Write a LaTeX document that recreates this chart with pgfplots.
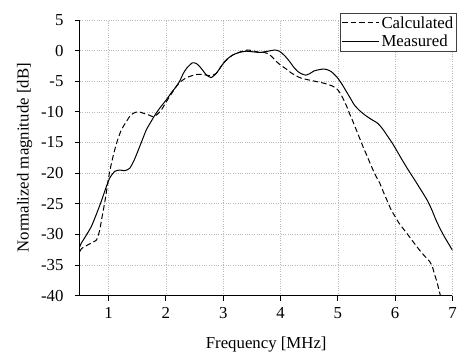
\documentclass[border=0pt]{standalone}
\usepackage{fontspec}
\setmainfont{Liberation Serif}
\usepackage{pgfplots}
\pgfplotsset{compat=1.18}
\newcommand{\fs}{\fontsize{16.8bp}{19bp}\selectfont}
\begin{document}
\begin{tikzpicture}
\begin{axis}[
  name=ax,
  scale only axis,
  width=373bp, height=276bp,
  xmin=0.5, xmax=7, ymin=-40, ymax=5,
  xtick={1,2,3,4,5,6,7},
  ytick={-40,-35,-30,-25,-20,-15,-10,-5,0,5},
  axis x line*=bottom, axis y line*=left,
  axis line style={-, line width=0.9bp},
  tick align=outside,
  major tick length=5bp,
  tick style={line width=0.8bp, black},
  grid=major,
  grid style={dotted, line width=0.6bp, gray!55},
  /pgf/number format/assume math mode=true,
  tick label style={font=\fs},
  yticklabel style={xshift=-8bp},
  xticklabel style={yshift=-3bp},
  label style={font=\fs},
  xlabel={Frequency [MHz]},
  ylabel={Normalized magnitude [dB]},
  xlabel style={yshift=-12bp},
  ylabel style={yshift=2bp},
  legend style={font=\fs, at={(axis description cs:1.011,1.025)}, anchor=north east,
    draw=black!75, line width=0.7bp, inner xsep=1bp, inner ysep=1bp, row sep=1.5bp,
    cells={anchor=west}},
  legend image code/.code={\draw[#1] (0bp,0bp) -- (37bp,0bp);},
  legend cell align=left,
]
\addplot[black, line width=1bp, dash pattern=on 5.5bp off 3bp, smooth, tension=0.4] coordinates {
(0.50,-32.8)(0.53,-32.3)(0.64,-31.7)(0.72,-31.3)(0.79,-30.9)(0.84,-29.5)(0.88,-27.5)
(0.94,-24.4)(0.98,-22.0)(1.02,-19.7)(1.08,-17.2)(1.14,-15.1)(1.22,-13.0)(1.31,-11.6)
(1.38,-10.6)(1.46,-10.1)(1.53,-10.0)(1.60,-10.2)(1.70,-10.5)(1.78,-10.8)(1.85,-10.4)
(1.92,-9.7)(2.01,-8.3)(2.10,-7.0)(2.17,-6.0)(2.24,-5.2)(2.31,-4.7)(2.39,-4.3)(2.53,-3.9)
(2.65,-3.9)(2.76,-4.1)(2.82,-4.0)(2.88,-3.7)(2.94,-2.9)(3.00,-2.1)(3.08,-1.3)(3.17,-0.7)
(3.30,-0.2)(3.43,0.1)(3.55,-0.1)(3.64,-0.3)(3.72,-0.3)(3.78,-0.5)(3.85,-1.0)(3.93,-1.8)
(4.02,-2.5)(4.10,-3.0)(4.18,-3.6)(4.27,-4.1)(4.36,-4.5)(4.45,-4.7)(4.55,-4.9)(4.65,-5.1)
(4.75,-5.3)(4.85,-5.6)(4.91,-5.8)(4.96,-6.1)(5.00,-6.4)(5.05,-7.1)(5.09,-7.8)(5.15,-9.0)
(5.20,-10.2)(5.26,-11.5)(5.32,-12.9)(5.38,-14.3)(5.44,-15.7)(5.50,-17.0)(5.55,-18.1)
(5.61,-19.4)(5.67,-20.6)(5.73,-21.6)(5.80,-23.2)(5.87,-24.7)(5.93,-26.0)(6.00,-27.1)
(6.07,-28.2)(6.16,-29.3)(6.25,-30.4)(6.33,-31.4)(6.42,-32.5)(6.51,-33.5)(6.60,-34.4)
(6.65,-35.3)(6.68,-36.3)(6.73,-37.8)(6.77,-39.3)(6.79,-40.0)
};
\addlegendentry{Calculated}
\addplot[black, line width=1bp, smooth, tension=0.4] coordinates {
(0.50,-32.0)(0.52,-31.5)(0.60,-30.3)(0.70,-28.7)(0.80,-26.4)(0.88,-24.4)(0.95,-22.5)
(1.02,-20.8)(1.11,-19.7)(1.20,-19.5)(1.28,-19.6)(1.37,-19.2)(1.45,-17.8)(1.52,-16.2)
(1.60,-14.3)(1.66,-12.9)(1.74,-11.6)(1.81,-10.5)(1.90,-9.3)(2.01,-8.0)(2.10,-6.8)
(2.17,-6.0)(2.24,-5.0)(2.30,-3.8)(2.36,-2.9)(2.46,-2.0)(2.53,-2.1)(2.59,-2.6)(2.65,-3.3)
(2.71,-4.0)(2.79,-4.4)(2.88,-3.7)(3.00,-2.1)(3.08,-1.3)(3.17,-0.7)(3.28,-0.3)(3.40,-0.1)
(3.52,-0.2)(3.64,-0.3)(3.78,-0.1)(3.90,0.1)(3.98,-0.1)(4.07,-0.8)(4.16,-1.8)(4.23,-2.7)
(4.30,-3.4)(4.37,-3.8)(4.44,-4.0)(4.50,-3.8)(4.59,-3.3)(4.68,-3.1)(4.74,-3.0)(4.81,-3.1)
(4.88,-3.4)(4.94,-3.9)(5.00,-4.5)(5.08,-5.6)(5.15,-6.7)(5.22,-7.8)(5.29,-8.9)(5.38,-9.8)
(5.47,-10.5)(5.58,-11.2)(5.70,-11.9)(5.79,-12.9)(5.87,-14.0)(5.95,-15.1)(6.02,-16.2)
(6.10,-17.5)(6.19,-18.9)(6.25,-19.8)(6.34,-21.1)(6.42,-22.3)(6.50,-23.5)(6.57,-24.6)
(6.64,-26.0)(6.71,-27.6)(6.78,-29.0)(6.86,-30.4)(6.93,-31.5)(7.00,-32.6)
};
\addlegendentry{Measured}
\end{axis}
\path ([xshift=-80bp,yshift=-55bp]ax.south west) rectangle ([xshift=7bp,yshift=20bp]ax.north east);
\end{tikzpicture}
\end{document}
